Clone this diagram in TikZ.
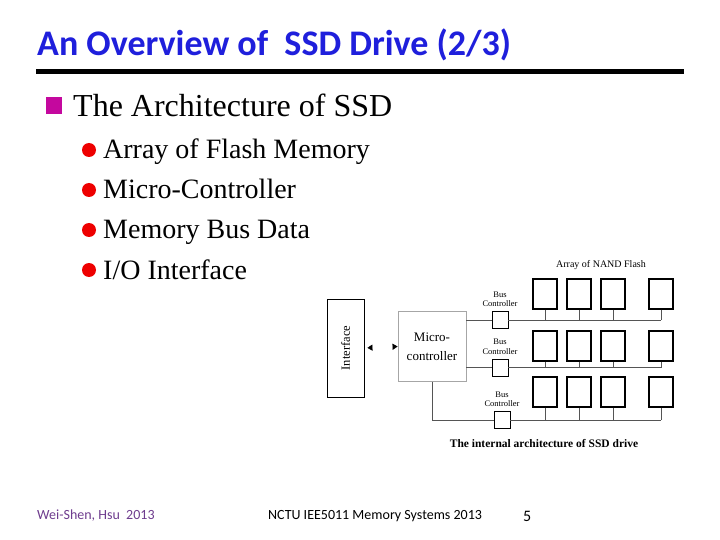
\documentclass[tikz,border=0pt]{standalone}
\usepackage{fontspec}
\setmainfont{Liberation Serif}
\newfontfamily\calibri{Carlito}
\usetikzlibrary{arrows.meta, positioning}
\definecolor{ttlblue}{HTML}{1F1FDC}
\definecolor{bulmagenta}{HTML}{C4089E}
\definecolor{bulred}{HTML}{EE0000}
\definecolor{ftpurple}{HTML}{6E3C8E}
\definecolor{busgray}{HTML}{555555}

\begin{document}
\begin{tikzpicture}[x=1pt, y=-1pt,
  every node/.style={inner sep=0pt},
  chip/.style={rectangle, draw, line width=1.1pt, minimum width=24, minimum height=30},
  busctrl/.style={rectangle, draw, line width=0.7pt, minimum width=16, minimum height=17},
  busline/.style={draw=busgray, line width=0.6pt},
  tinylbl/.style={align=center, font=\fontsize{8.5}{9.5}\selectfont},
  bodytext/.style={anchor=base west, font=\fontsize{28}{34}\selectfont},
]
\fill[white] (0,0) rectangle (720,540);
\useasboundingbox (0,0) rectangle (720,540);

% Title and rule
\node[anchor=base west, text=ttlblue, font=\calibri\bfseries\fontsize{36}{43}\selectfont] (title) at (37,56) {An Overview of~~SSD Drive (2/3)};
\fill (36,69) rectangle (684,74);

% Bullets
\node[fill=bulmagenta, minimum width=16, minimum height=17] (sq) at (54,105.5) {};
\node[bodytext, font=\fontsize{32}{38}\selectfont] (arch) at (73,117) {The Architecture of SSD};
\foreach \txt [count=\i] in {Array of Flash Memory, Micro-Controller, Memory Bus Data, I/O Interface} {
  \node[circle, fill=bulred, minimum size=14] (dot\i) at (89,110+40*\i) {};
  \node[bodytext] (item\i) at (103,119+40*\i) {\txt};
}

% Interface and micro-controller
\node[draw, line width=0.8pt, minimum width=37, minimum height=98] (iface) at (345.5,348) {};
\node[rotate=90, font=\fontsize{12.5}{14}\selectfont] (ifacelbl) at (iface.center) {Interface};
\node[draw=gray!70, line width=0.8pt, minimum width=68, minimum height=70, align=center, font=\fontsize{13}{19}\selectfont] (micro) at (432,346.5) {Micro-\\controller};
\draw[white, {Triangle[black, length=5pt, width=6pt]}-{Triangle[black, length=5pt, width=6pt]}, shorten <=3pt] (iface.east) -- (micro.west);

% Bus controllers
\node[busctrl] (bc1) at (500,320) {};
\node[busctrl] (bc2) at (500,367.5) {};
\node[busctrl] (bc3) at (502,420) {};
\node[tinylbl, above=4pt of bc1] (bc1lbl) {Bus\\Controller};
\node[tinylbl, above=4pt of bc2] (bc2lbl) {Bus\\Controller};
\node[tinylbl, above=4pt of bc3] (bc3lbl) {Bus\\Controller};

% NAND array
\foreach \r/\y in {1/294, 2/346, 3/392} {
  \foreach \c/\x in {1/545, 2/579, 3/613, 4/661} {
    \node[chip] (f\r\c) at (\x,\y) {};
    \draw[busline] (f\r\c.south) -- (f\r\c.south |- bc\r.east);
  }
  \draw[busline] (bc\r.east) -- (bc\r.east -| f\r4.south);
}

\draw[busline] (micro.east |- bc1.west) -- (bc1.west);
\draw[busline] (micro.east |- bc2.west) -- (bc2.west);
\draw[busline] (micro.south) |- (bc3.west);

\node[font=\fontsize{10}{12}\selectfont] (arraylbl) at (601,265) {Array of NAND Flash};
\node[font=\bfseries\fontsize{11.5}{13}\selectfont] (caption) at (544,444) {The internal architecture of SSD drive};

% Footer
\node[anchor=base west, text=ftpurple, font=\calibri\fontsize{14}{17}\selectfont] (author) at (37,519) {Wei-Shen, Hsu~~2013};
\node[anchor=base west, font=\calibri\fontsize{14}{17}\selectfont] (course) at (268,519) {NCTU IEE5011 Memory Systems 2013};
\node[anchor=base west, font=\calibri\fontsize{16}{19}\selectfont] (pagenum) at (523,521) {5};
\end{tikzpicture}
\end{document}
